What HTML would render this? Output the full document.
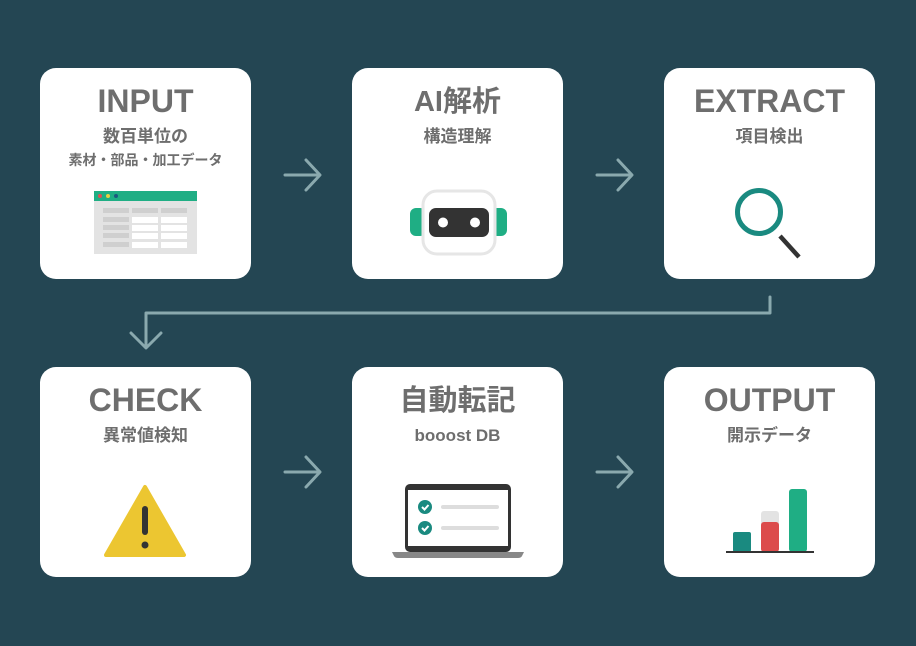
<!DOCTYPE html>
<html><head><meta charset="utf-8"><style>
html,body{margin:0;padding:0;background:#244653;}
svg{display:block}
text{font-family:"Liberation Sans","Noto Sans CJK JP",sans-serif;font-weight:bold;fill:#6e6e6e;text-anchor:middle}
</style></head><body>
<svg width="916" height="646" viewBox="0 0 916 646" xmlns="http://www.w3.org/2000/svg">
<rect width="916" height="646" fill="#244653"/>
<g fill="#fff">
<rect x="40" y="68" width="211" height="211" rx="16"/>
<rect x="352" y="68" width="211" height="211" rx="16"/>
<rect x="664" y="68" width="211" height="211" rx="16"/>
<rect x="40" y="367" width="211" height="210" rx="16"/>
<rect x="352" y="367" width="211" height="210" rx="16"/>
<rect x="664" y="367" width="211" height="210" rx="16"/>
</g>
<text x="145.5" y="112" font-size="32">INPUT</text>
<text x="145.5" y="142" font-size="17">数百単位の</text>
<text x="145.5" y="165" font-size="14">素材・部品・加工データ</text>
<text x="457.5" y="111" font-size="29">AI解析</text>
<text x="457.5" y="142" font-size="17">構造理解</text>
<text x="769.5" y="112" font-size="32">EXTRACT</text>
<text x="769.5" y="142" font-size="17">項目検出</text>
<text x="145.5" y="411" font-size="32">CHECK</text>
<text x="145.5" y="441" font-size="17">異常値検知</text>
<text x="457.5" y="410" font-size="29">自動転記</text>
<text x="457.5" y="441" font-size="17">booost DB</text>
<text x="769.5" y="411" font-size="32">OUTPUT</text>
<text x="769.5" y="441" font-size="17">開示データ</text>
<g stroke="#8aa9ae" stroke-width="3" fill="none" stroke-linecap="round" stroke-linejoin="round">
<path d="M285 175H319M306 160L320 175L306 190"/>
<path d="M597 175H631M618 160L632 175L618 190"/>
<path d="M285 472H319M306 457L320 472L306 487"/>
<path d="M597 472H631M618 457L632 472L618 487"/>
<path d="M770 297V313H146V346M131 333L146 348L161 333"/>
</g>
<!-- spreadsheet -->
<rect x="94" y="191" width="103" height="63" fill="#e3e3e3"/>
<rect x="94" y="191" width="103" height="10" fill="#1fae84"/>
<circle cx="100" cy="196" r="2" fill="#e05050"/><circle cx="108" cy="196" r="2" fill="#e8d040"/><circle cx="116" cy="196" r="2" fill="#1c5a80"/>
<g fill="#cfcfcf"><rect x="103" y="208" width="26" height="5"/><rect x="132" y="208" width="26" height="5"/><rect x="161" y="208" width="26" height="5"/>
<rect x="103" y="217" width="26" height="5"/><rect x="103" y="225" width="26" height="5"/><rect x="103" y="233" width="26" height="5"/><rect x="103" y="242" width="26" height="5"/></g>
<g fill="#fff"><rect x="132" y="217" width="26" height="6"/><rect x="161" y="217" width="26" height="6"/><rect x="132" y="225" width="26" height="6"/><rect x="161" y="225" width="26" height="6"/><rect x="132" y="233" width="26" height="6"/><rect x="161" y="233" width="26" height="6"/><rect x="132" y="242" width="26" height="6"/><rect x="161" y="242" width="26" height="6"/></g>
<!-- robot -->
<rect x="410" y="208" width="16" height="28" rx="6" fill="#1fae84"/>
<rect x="491" y="208" width="16" height="28" rx="6" fill="#1fae84"/>
<rect x="423" y="191" width="72" height="63" rx="14" fill="#fff" stroke="#e6e6e6" stroke-width="3"/>
<rect x="429" y="208" width="60" height="29" rx="7" fill="#333"/>
<circle cx="443" cy="222.5" r="5" fill="#fff"/><circle cx="475" cy="222.5" r="5" fill="#fff"/>
<!-- magnifier -->
<line x1="780" y1="236" x2="799" y2="257" stroke="#333" stroke-width="4.5"/>
<circle cx="759" cy="212" r="21.5" fill="none" stroke="#1a8a80" stroke-width="5"/>
<!-- warning -->
<path d="M145 487L184 555H106Z" fill="#ecc631" stroke="#ecc631" stroke-width="4" stroke-linejoin="round"/>
<line x1="145" y1="509" x2="145" y2="532" stroke="#333" stroke-width="6" stroke-linecap="round"/>
<circle cx="145" cy="545" r="3.5" fill="#333"/>
<!-- laptop -->
<rect x="405" y="484" width="106" height="68" rx="5" fill="#333"/>
<rect x="408" y="490" width="100" height="56" fill="#fff"/>
<path d="M392 552H524L522 556Q521 558 518 558H398Q395 558 394 556Z" fill="#888"/>
<circle cx="425" cy="507" r="7" fill="#1a8a80"/><circle cx="425" cy="528" r="7" fill="#1a8a80"/>
<path d="M422 507L424.5 509.5L428.5 505M422 528L424.5 530.5L428.5 526" stroke="#fff" stroke-width="2" fill="none"/>
<rect x="441" y="505" width="58" height="4" rx="2" fill="#ddd"/><rect x="441" y="526" width="58" height="4" rx="2" fill="#ddd"/>
<!-- chart -->
<rect x="733" y="532" width="18" height="20" rx="2" fill="#1a8a80"/>
<rect x="761" y="511" width="18" height="41" rx="3" fill="#e3e3e3"/>
<rect x="761" y="522" width="18" height="30" rx="3" fill="#dc4b4b"/>
<rect x="789" y="489" width="18" height="63" rx="3" fill="#1fae84"/>
<rect x="726" y="551" width="88" height="2" fill="#333"/>
</svg>
</body></html>
